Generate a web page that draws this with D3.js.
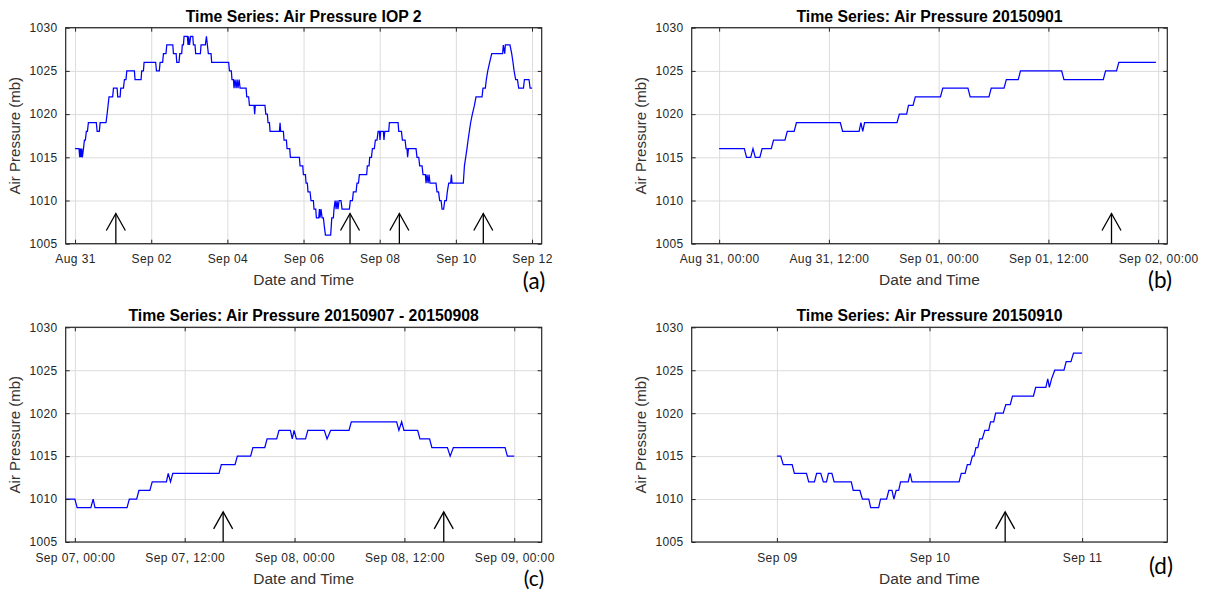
<!DOCTYPE html>
<html>
<head>
<meta charset="utf-8">
<script src="https://cdn.jsdelivr.net/npm/d3@7"></script>
<style>
body { margin: 0; background: #fff; }
svg { display: block; font-family: "Liberation Sans", Arial, sans-serif; }
</style>
</head>
<body>
<script>
// pressure readings: [hours since panel start, mb]
const pressA = [[0,1016],[2.5,1016],[2.9,1015],[3.4,1016],[3.8,1015],[4.2,1016],[4.6,1015],[5.3,1016],[5.9,1017],[6.5,1017],[7.1,1018],[7.8,1018],[8.4,1019],[13.4,1019],[13.9,1018],[15.3,1018],[15.8,1019],[19.5,1019],[20.2,1020],[20.8,1021],[21.4,1022],[23.7,1022],[24.2,1023],[26.5,1023],[26.9,1022],[28.4,1022],[28.8,1023],[30.5,1023],[31.1,1024],[32.1,1024],[32.6,1025],[37.4,1025],[37.8,1024],[41.6,1024],[42.0,1025],[43.1,1025],[43.5,1026],[50.8,1026],[51.3,1025],[53.1,1025],[53.6,1026],[55.2,1026],[55.7,1027],[57.3,1027],[57.8,1028],[61.6,1028],[62.0,1027],[63.7,1027],[64.1,1026],[65.5,1026],[66.0,1027],[67.2,1027],[67.6,1028],[68.3,1028],[68.7,1029],[70.8,1029],[71.2,1028],[71.6,1029],[72.1,1028],[72.9,1029],[74.2,1029],[74.6,1028],[75.6,1028],[76.0,1027],[79.0,1027],[79.4,1028],[82.1,1028],[82.8,1029],[83.4,1028],[84.0,1027],[85.7,1027],[86.1,1026],[96.8,1026],[97.3,1025],[98.5,1025],[98.9,1024],[99.8,1024],[100.2,1023],[100.8,1024],[101.5,1023],[102.1,1024],[102.7,1023],[103.4,1024],[104.0,1023],[107.8,1023],[108.2,1022],[109.4,1022],[109.9,1021],[112.8,1021],[113.2,1020],[113.6,1021],[119.7,1021],[120.2,1020],[121.2,1020],[121.6,1019],[122.5,1019],[122.9,1018],[128.8,1018],[129.2,1019],[129.6,1018],[131.3,1018],[131.7,1017],[133.2,1017],[133.6,1016],[135.3,1016],[135.7,1015],[141.4,1015],[141.8,1014],[143.5,1014],[143.9,1013],[145.2,1013],[145.6,1012],[146.4,1012],[146.8,1011],[148.1,1011],[148.7,1010],[150.2,1010],[150.6,1009],[151.7,1009],[152.1,1008],[153.6,1008],[154.0,1009],[154.4,1008],[155.0,1009],[155.7,1008],[156.5,1008],[157.1,1007],[157.8,1006],[161.1,1006],[161.8,1008],[162.8,1008],[163.2,1009],[163.9,1010],[164.5,1009],[165.1,1010],[165.7,1009],[166.4,1010],[167.6,1010],[168.3,1009],[172.9,1009],[173.5,1010],[174.8,1010],[175.4,1011],[177.1,1011],[177.7,1012],[178.6,1012],[179.2,1013],[183.8,1013],[184.2,1014],[185.3,1014],[185.7,1015],[186.8,1015],[187.4,1016],[188.6,1016],[189.3,1017],[190.3,1017],[191.0,1018],[191.8,1018],[192.2,1017],[192.6,1018],[194.3,1018],[194.7,1017],[195.2,1018],[197.7,1018],[198.1,1019],[203.6,1019],[204.0,1018],[205.7,1018],[206.3,1017],[208.0,1017],[208.6,1016],[209.2,1016],[209.6,1015],[210.1,1016],[214.9,1016],[215.5,1015],[216.6,1015],[217.2,1014],[218.7,1014],[219.3,1013],[220.8,1013],[221.2,1012],[221.8,1013],[222.5,1012],[223.1,1013],[223.7,1012],[227.5,1012],[228.1,1011],[229.1,1011],[229.8,1010],[230.7,1010],[231.3,1009],[232.3,1009],[233.0,1010],[234.0,1010],[234.6,1011],[235.5,1012],[236.7,1012],[237.2,1013],[237.6,1012],[244.7,1012],[245.4,1014],[246.2,1015],[247.0,1016],[247.7,1017],[248.5,1018],[249.3,1019],[250.4,1020],[251.7,1021],[252.7,1022],[256.5,1022],[257.1,1023],[258.6,1023],[259.2,1024],[260.1,1025],[261.3,1026],[262.6,1027],[269.5,1027],[269.9,1028],[270.8,1027],[271.2,1028],[274.1,1028],[275.2,1027],[276.0,1026],[276.7,1025],[277.7,1024],[278.8,1024],[279.6,1023],[282.6,1023],[283.2,1024],[286.1,1024],[286.8,1023],[288.0,1023]];

const pressB = [[0,1016],[2.75,1016],[3.0,1015],[3.45,1015],[3.7,1016],[3.95,1015],[4.45,1015],[4.7,1016],[5.7,1016],[5.95,1017],[7.2,1017],[7.45,1018],[8.2,1018],[8.45,1019],[13.25,1019],[13.5,1018],[15.3,1018],[15.5,1019],[15.7,1018],[15.9,1019],[19.45,1019],[19.7,1020],[20.5,1020],[20.7,1021],[21.2,1021],[21.45,1022],[24.2,1022],[24.45,1023],[27.2,1023],[27.45,1022],[29.5,1022],[29.75,1023],[31.15,1023],[31.4,1024],[32.7,1024],[32.95,1025],[37.45,1025],[37.7,1024],[42.0,1024],[42.25,1025],[43.45,1025],[43.7,1026],[47.75,1026]];

const pressC = [[-1,1010],[0,1010],[0.25,1009],[1.75,1009],[2,1010],[2.2,1009],[5.7,1009],[5.95,1010],[6.75,1010],[7,1011],[8.2,1011],[8.45,1012],[10,1012],[10.2,1013],[10.45,1012],[10.7,1013],[15.75,1013],[16,1014],[17.5,1014],[17.75,1015],[19.2,1015],[19.45,1016],[20.75,1016],[21,1017],[22.05,1017],[22.3,1018],[23.55,1018],[23.75,1017],[23.95,1018],[24.2,1017],[25.2,1017],[25.45,1018],[27.25,1018],[27.55,1017],[27.95,1018],[29.95,1018],[30.2,1019],[35.15,1019],[35.4,1018],[35.7,1019],[35.95,1018],[37.45,1018],[37.7,1017],[38.75,1017],[39,1016],[40.7,1016],[41,1015],[41.35,1016],[47,1016],[47.25,1015],[48,1015]];

const pressD = [[0,1015],[0.6,1015],[1,1014],[2.4,1014],[2.75,1013],[4.65,1013],[5,1012],[5.9,1012],[6.25,1013],[6.9,1013],[7.3,1012],[7.8,1012],[8.1,1013],[8.65,1013],[9,1012],[11.7,1012],[12,1011],[13.05,1011],[13.45,1010],[14.45,1010],[14.75,1009],[16,1009],[16.3,1010],[17.25,1010],[17.6,1011],[18.1,1011],[18.4,1010],[18.75,1011],[19.15,1011],[19.45,1012],[20.65,1012],[20.95,1013],[21.25,1012],[28.65,1012],[29,1013],[29.6,1013],[29.95,1014],[30.4,1014],[30.75,1015],[31,1015],[31.3,1016],[31.6,1016],[31.9,1017],[32.3,1017],[32.7,1018],[33.3,1018],[33.6,1019],[34.1,1019],[34.4,1020],[35.6,1020],[36,1021],[36.7,1021],[37.05,1022],[40.35,1022],[40.7,1023],[42.3,1023],[42.6,1024],[42.85,1023],[43.2,1024],[43.7,1025],[45.15,1025],[45.5,1026],[46.25,1026],[46.65,1027],[48,1027]];

// arrow marks, hours since panel start
const arrowsA = [25.7, 173.3, 204.4, 257.3];
const arrowsB = [42.9];
const arrowsC = [16.2, 40.3];
const arrowsD = [35.9];
const arrowTip = 1008.5;

// tick labels
const ticksA = ["2015-08-31 00:00","2015-09-02 00:00","2015-09-04 00:00","2015-09-06 00:00","2015-09-08 00:00","2015-09-10 00:00","2015-09-12 00:00"];
const ticksB = ["2015-08-31 00:00","2015-08-31 12:00","2015-09-01 00:00","2015-09-01 12:00","2015-09-02 00:00"];
const ticksC = ["2015-09-07 00:00","2015-09-07 12:00","2015-09-08 00:00","2015-09-08 12:00","2015-09-09 00:00"];
const ticksD = ["2015-09-09 00:00","2015-09-10 00:00","2015-09-11 00:00"];
const yTicks = [1005, 1010, 1015, 1020, 1025, 1030];

const titles = ["Time Series: Air Pressure IOP 2", "Time Series: Air Pressure 20150901",
                "Time Series: Air Pressure 20150907 - 20150908", "Time Series: Air Pressure 20150910"];
const tags = ["(a)", "(b)", "(c)", "(d)"];

const parseT = d3.utcParse("%Y-%m-%d %H:%M");
const HOUR = 3600e3;

const panels = [
  {data: pressA, arrows: arrowsA, ticks: ticksA, start: "2015-08-31 00:00", dom: [-5.9, 294.1], fmt: "%b %d",
   x0: 65.7, x1: 541.7, y0: 27.7, y1: 243.7, tag: [534, 289, 22.5]},
  {data: pressB, arrows: arrowsB, ticks: ticksB, start: "2015-08-31 00:00", dom: [-3, 49], fmt: "%b %d, %H:%M",
   x0: 691.7, x1: 1167.3, y0: 27.7, y1: 243.7, tag: [1160, 288, 22.5]},
  {data: pressC, arrows: arrowsC, ticks: ticksC, start: "2015-09-07 00:00", dom: [-1, 51], fmt: "%b %d, %H:%M",
   x0: 65.7, x1: 541.7, y0: 327.3, y1: 542, tag: [534, 585.5, 21]},
  {data: pressD, arrows: arrowsD, ticks: ticksD, start: "2015-09-09 00:00", dom: [-13.4, 61.4], fmt: "%b %d",
   x0: 691.7, x1: 1167.3, y0: 327.3, y1: 542, tag: [1161, 574, 22.5]}
];

const svg = d3.select("body").append("svg")
  .attr("width", 1211)
  .attr("height", 590);

panels.forEach(function(p, i) {
  let t0 = parseT(p.start);
  let hrs = h => new Date(t0.getTime() + h * HOUR);
  let x = d3.scaleUtc().domain([hrs(p.dom[0]), hrs(p.dom[1])]).range([p.x0, p.x1]);
  let y = d3.scaleLinear().domain([1005, 1030]).range([p.y1, p.y0]);
  let tv = p.ticks.map(parseT);
  let g = svg.append("g");

  // grid
  let grid = g.append("g").attr("class", "grid");
  grid.append("g").attr("transform", `translate(0,${p.y1})`)
    .call(d3.axisBottom(x).tickValues(tv).tickSize(-(p.y1 - p.y0)).tickFormat(""));
  grid.append("g").attr("transform", `translate(${p.x0},0)`)
    .call(d3.axisLeft(y).tickValues(yTicks).tickSize(-(p.x1 - p.x0)).tickFormat(""));
  grid.selectAll(".domain").remove();
  grid.selectAll("line").attr("stroke", "#dcdcdc");

  // pressure trace
  let line = d3.line().x(d => x(hrs(d[0]))).y(d => y(d[1]));
  g.append("path").datum(p.data)
    .attr("d", line)
    .attr("fill", "none")
    .attr("stroke", "#0000ff")
    .attr("stroke-width", 1.25);

  // axes, ticks pointing inward
  let ax = g.append("g").attr("class", "axes");
  ax.append("g").attr("transform", `translate(0,${p.y1})`)
    .call(d3.axisBottom(x).tickValues(tv).tickSizeInner(-4).tickSizeOuter(0).tickPadding(11)
      .tickFormat(d3.utcFormat(p.fmt)));
  ax.append("g").attr("transform", `translate(0,${p.y0})`)
    .call(d3.axisTop(x).tickValues(tv).tickSizeInner(-4).tickSizeOuter(0).tickFormat(""));
  ax.append("g").attr("transform", `translate(${p.x0},0)`)
    .call(d3.axisLeft(y).tickValues(yTicks).tickSizeInner(-4).tickSizeOuter(0).tickPadding(8)
      .tickFormat(d3.format("d")));
  ax.append("g").attr("transform", `translate(${p.x1},0)`)
    .call(d3.axisRight(y).tickValues(yTicks).tickSizeInner(-4).tickSizeOuter(0).tickFormat(""));
  ax.selectAll(".domain").remove();
  ax.selectAll(".tick line").attr("stroke", "#262626");
  ax.selectAll(".tick text").attr("fill", "#262626")
    .style("font-size", "12px").style("letter-spacing", "0.4px")
    .style("font-family", "Liberation Sans, Arial, sans-serif");

  // box
  g.append("rect")
    .attr("x", p.x0).attr("y", p.y0)
    .attr("width", p.x1 - p.x0).attr("height", p.y1 - p.y0)
    .attr("fill", "none").attr("stroke", "#262626").attr("stroke-width", 1.2);

  // arrows
  p.arrows.forEach(function(a) {
    let axp = x(hrs(a)), tip = y(arrowTip);
    g.append("line").attr("x1", axp).attr("x2", axp).attr("y1", y(1005)).attr("y2", tip)
      .attr("stroke", "#000").attr("stroke-width", 1.3);
    g.append("path").attr("d", `M${axp - 9.5},${tip + 17}L${axp},${tip}L${axp + 9.5},${tip + 17}`)
      .attr("fill", "none").attr("stroke", "#000").attr("stroke-width", 1.3);
  });

  // title and axis labels
  let cx = (p.x0 + p.x1) / 2;
  g.append("text").attr("x", cx).attr("y", p.y0 - 6)
    .attr("text-anchor", "middle").attr("font-weight", "bold").attr("font-size", 15.8)
    .attr("fill", "#000").text(titles[i]);
  g.append("text").attr("x", cx).attr("y", p.y1 + 41.5)
    .attr("text-anchor", "middle").attr("font-size", 15.5).attr("fill", "#333")
    .text("Date and Time");
  g.append("text")
    .attr("transform", `translate(${p.x0 - 46},${(p.y0 + p.y1) / 2}) rotate(-90)`)
    .attr("text-anchor", "middle").attr("font-size", 15).attr("fill", "#333")
    .text("Air Pressure (mb)");
  g.append("text").attr("x", p.tag[0]).attr("y", p.tag[1])
    .attr("text-anchor", "middle").attr("font-size", p.tag[2]).attr("fill", "#000")
    .style("font-family", "Lato, sans-serif")
    .text(tags[i]);
});
</script>
</body>
</html>
